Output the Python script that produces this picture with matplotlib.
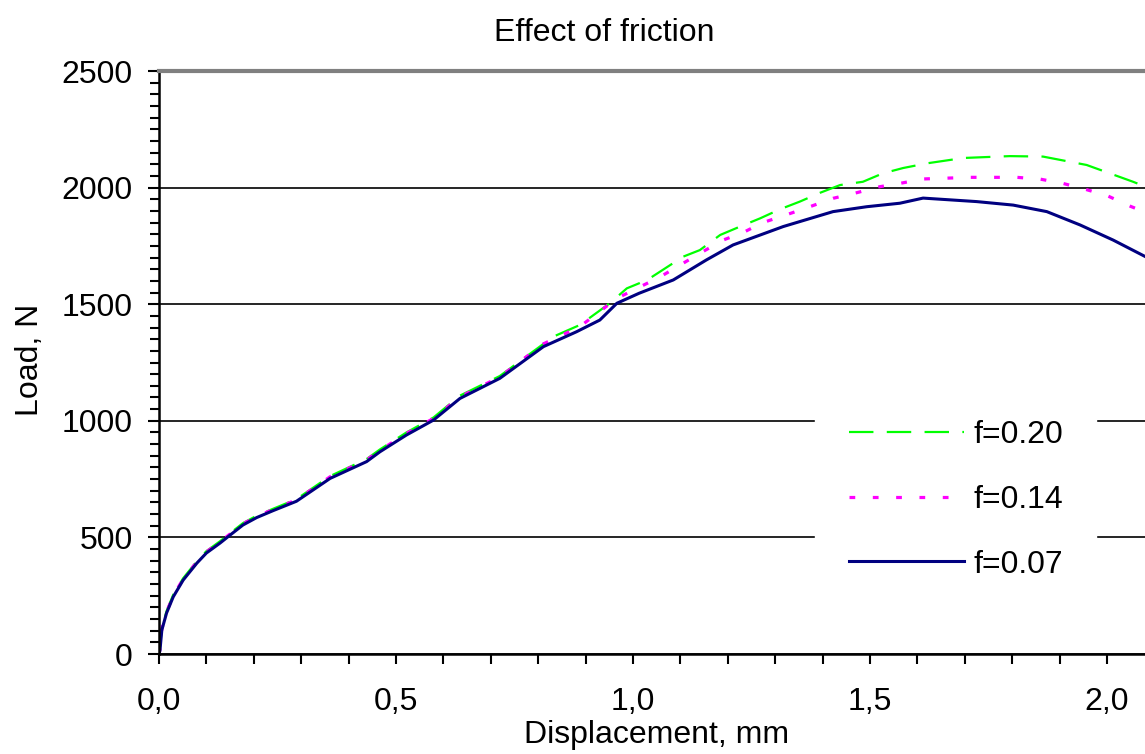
import matplotlib.pyplot as plt
from matplotlib.ticker import MultipleLocator, FixedLocator

plt.rcParams['font.family'] = ['Liberation Sans', 'DejaVu Sans']

# f = 0.07 (solid navy)
disp_007 = [0, 0.002, 0.006, 0.016, 0.03, 0.051, 0.08, 0.1, 0.129, 0.15, 0.177, 0.206,
            0.241, 0.29, 0.361, 0.438, 0.466, 0.522, 0.579, 0.635, 0.719, 0.811, 0.881,
            0.930, 0.966, 1.013, 1.085, 1.155, 1.211, 1.317, 1.422, 1.493, 1.563, 1.612,
            1.725, 1.802, 1.873, 1.943, 2.013, 2.08]
load_007 = [0, 15, 103, 176, 245, 317, 390, 433, 476, 510, 553, 585,
            615, 655, 753, 825, 867, 939, 1003, 1096, 1182, 1318, 1382,
            1432, 1504, 1547, 1604, 1690, 1754, 1833, 1897, 1918, 1933, 1955,
            1940, 1925, 1897, 1840, 1775, 1705]

# f = 0.14 (dotted magenta)
disp_014 = [0, 0.002, 0.006, 0.016, 0.03, 0.051, 0.08, 0.1, 0.129, 0.15, 0.177, 0.206,
            0.241, 0.29, 0.361, 0.438, 0.466, 0.522, 0.579, 0.635, 0.719, 0.811, 0.888,
            0.966, 1.058, 1.141, 1.19, 1.232, 1.274, 1.323, 1.373, 1.422, 1.468, 1.521,
            1.563, 1.612, 1.711, 1.81, 1.86, 1.907, 1.954, 2.002, 2.048, 2.08]
load_014 = [0, 20, 108, 180, 250, 322, 395, 438, 481, 515, 558, 590,
            620, 661, 760, 832, 873, 946, 1010, 1103, 1188, 1330, 1404,
            1525, 1618, 1718, 1775, 1807, 1850, 1883, 1918, 1954, 1976, 2004,
            2018, 2037, 2044, 2044, 2036, 2018, 1993, 1964, 1921, 1895]

# f = 0.20 (dashed green)
disp_020 = [0, 0.002, 0.006, 0.016, 0.03, 0.051, 0.08, 0.1, 0.129, 0.15, 0.177, 0.206,
            0.241, 0.29, 0.361, 0.438, 0.466, 0.522, 0.579, 0.635, 0.719, 0.832, 0.888,
            0.951, 0.987, 1.03, 1.106, 1.141, 1.184, 1.226, 1.268, 1.31, 1.352, 1.395,
            1.437, 1.485, 1.527, 1.57, 1.62, 1.697, 1.795, 1.865, 1.957, 2.055, 2.08]
load_020 = [0, 25, 112, 184, 254, 325, 398, 441, 484, 518, 561, 593,
            623, 664, 763, 836, 877, 950, 1014, 1108, 1192, 1361, 1411,
            1504, 1568, 1604, 1704, 1732, 1797, 1833, 1868, 1907, 1940, 1978,
            2011, 2025, 2061, 2084, 2104, 2127, 2135, 2133, 2097, 2025, 2005]

labels = ['f=0.20', 'f=0.14', 'f=0.07']
x_ticks = [0.0, 0.5, 1.0, 1.5, 2.0]
x_ticklabels = ['0,0', '0,5', '1,0', '1,5', '2,0']
y_ticks = [0, 500, 1000, 1500, 2000, 2500]

fs = 23

fig = plt.figure(figsize=(11.45, 7.54), dpi=100)
ax = fig.add_axes([159 / 1145, 100 / 754, 986 / 1145, 583 / 754])

ax.plot(disp_020, load_020, color='#00ff00', lw=1.6, dashes=(11, 6), label=labels[0])
ax.plot(disp_014, load_014, color='#ff00ff', lw=2.3, dashes=(1.8, 5.5), label=labels[1])
ax.plot(disp_007, load_007, color='#000080', lw=2.2, label=labels[2])

ax.set_xlim(0, 986 / 474)
ax.set_ylim(0, 2500)
ax.xaxis.set_major_locator(FixedLocator(x_ticks))
ax.set_xticklabels(x_ticklabels)
ax.xaxis.set_minor_locator(MultipleLocator(0.1))
ax.yaxis.set_major_locator(FixedLocator(y_ticks))
ax.yaxis.set_minor_locator(MultipleLocator(50))

ax.tick_params(axis='both', which='major', labelsize=fs, width=1.5, color='black')
ax.tick_params(axis='x', which='both', length=7.5, width=1.5, pad=16)
ax.tick_params(axis='y', which='major', length=8, pad=11)
ax.tick_params(axis='y', which='minor', length=6.5, width=1.5)

ax.set_axisbelow(True)
ax.yaxis.grid(True, which='major', color='black', lw=1.2)

for s in ['left', 'bottom']:
    ax.spines[s].set_linewidth(1.8)
    ax.spines[s].set_color('black')
ax.spines['top'].set_color('#808080')
ax.spines['top'].set_linewidth(3)
ax.spines['right'].set_visible(False)

ax.set_xlabel('Displacement, mm', fontsize=fs)
ax.xaxis.set_label_coords(0.505, -0.114)
ax.set_ylabel('Load, N', fontsize=fs)
ax.yaxis.set_label_coords(-0.116, 0.504)

fig.text(604 / 1145, 1 - 33 / 754, 'Effect of friction', fontsize=fs,
         ha='center', va='center')

leg = ax.legend(loc='upper left', bbox_to_anchor=(0.6653, 0.459), borderaxespad=0,
                fontsize=fs, handlelength=3.6, handletextpad=0.3, labelspacing=1.09,
                borderpad=1.05, frameon=True, fancybox=False, framealpha=1)
leg.get_frame().set_facecolor('white')
leg.get_frame().set_edgecolor('white')

plt.savefig('out.png', dpi=100)
